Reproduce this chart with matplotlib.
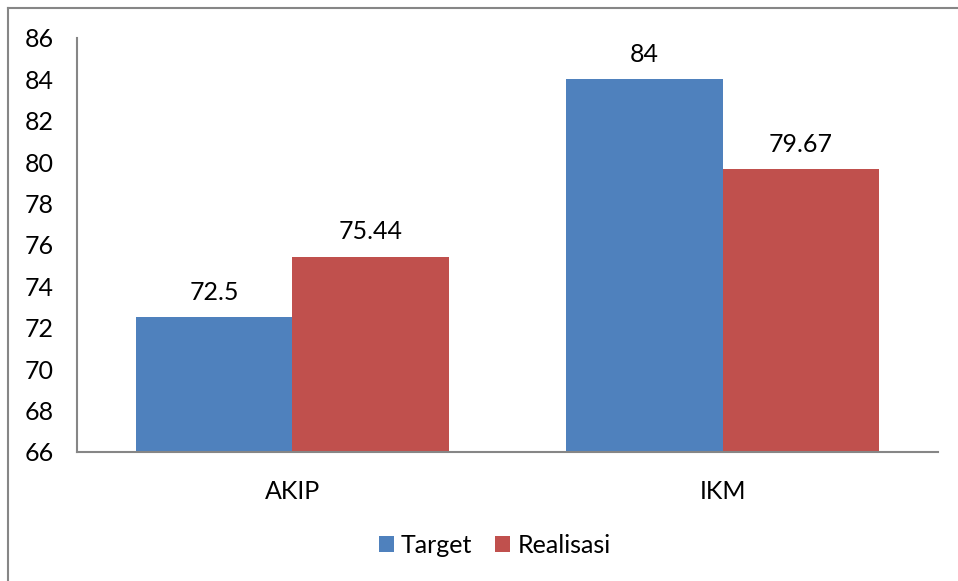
import numpy as np
import matplotlib.pyplot as plt
from matplotlib.lines import Line2D

# data
kategori = ['AKIP', 'IKM']
target = [72.5, 84]
realisasi = [75.44, 79.67]
label_target = ['72.5', '84']
label_realisasi = ['75.44', '79.67']
yticks = [66, 68, 70, 72, 74, 76, 78, 80, 82, 84, 86]

plt.rcParams['font.family'] = ['Lato', 'DejaVu Sans']
fs = 18

fig = plt.figure(figsize=(9.58, 5.81), dpi=100)
ax = fig.add_axes([77 / 958, 1 - 452 / 581, (938 - 77) / 958, (452 - 38) / 581])

x = np.arange(len(kategori))
w = 0.364
b1 = ax.bar(x - w / 2, target, w, color='#4F81BD', label='Target')
b2 = ax.bar(x + w / 2, realisasi, w, color='#C0504D', label='Realisasi')

for bars, labels in ((b1, label_target), (b2, label_realisasi)):
    for rect, txt in zip(bars, labels):
        ax.annotate(txt, (rect.get_x() + rect.get_width() / 2, rect.get_height()),
                    xytext=(0, 18), textcoords='offset points',
                    ha='center', va='center', fontsize=fs)

ax.set_ylim(66, 86)
ax.set_xlim(-0.5, 1.5)
ax.set_yticks(yticks)
ax.set_xticks(x)
ax.set_xticklabels(kategori)
ax.tick_params(axis='both', length=0, labelsize=fs)
ax.tick_params(axis='x', pad=20)
ax.tick_params(axis='y', pad=17)

ax.spines['top'].set_visible(False)
ax.spines['right'].set_visible(False)
for s in ('left', 'bottom'):
    ax.spines[s].set_color('#868686')
    ax.spines[s].set_linewidth(1.5)

ax.legend(loc='center', bbox_to_anchor=(0.485, -0.225), ncol=2, frameon=False,
          fontsize=fs, handlelength=0.6, handleheight=0.6, handletextpad=0.3,
          columnspacing=0.9)

# outer chart border (left and top only visible)
fig.add_artist(Line2D([7.5 / 958, 7.5 / 958], [0, 1 - 7.5 / 581], color='#868686', lw=1.5))
fig.add_artist(Line2D([7.5 / 958, 1], [1 - 7.5 / 581, 1 - 7.5 / 581], color='#868686', lw=1.5))

fig.savefig('out.png', dpi=100)
